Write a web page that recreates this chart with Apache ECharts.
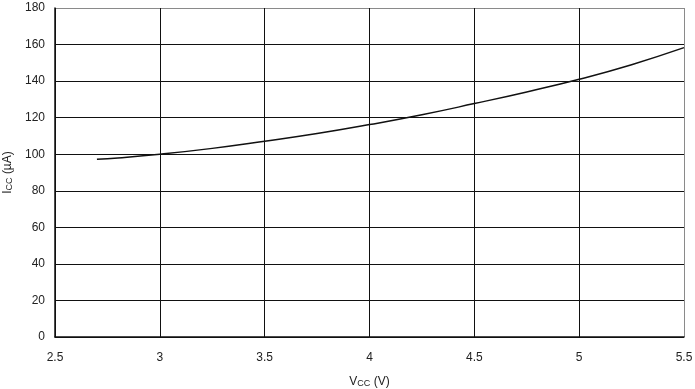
<!DOCTYPE html>
<html>
<head>
<meta charset="utf-8">
<script src="https://cdn.jsdelivr.net/npm/echarts@6/dist/echarts.min.js"></script>
<style>html,body{margin:0;padding:0;background:#fff}#c{width:695px;height:389px}</style>
</head>
<body>
<div id="c"></div>
<script>
const vcc = [2.7, 2.8, 3.0, 3.25, 3.5, 3.75, 4.0, 4.25, 4.5, 4.75, 5.0, 5.25, 5.5];
const icc = [97.3, 98.0, 100.0, 103.2, 107.1, 111.3, 116.2, 121.6, 127.7, 134.1, 141.0, 149.0, 158.3];
const xTicks = [2.5, 3, 3.5, 4, 4.5, 5, 5.5];
const yTicks = [0, 20, 40, 60, 80, 100, 120, 140, 160, 180];

const chart = echarts.init(document.getElementById('c'), null, {renderer: 'canvas'});
const font = '"Liberation Sans", Arial, sans-serif';
const gridColorsX = xTicks.map((v, i) => i === xTicks.length - 1 ? '#8a8a8a' : '#111');
const gridColorsY = yTicks.map((v, i) => i === yTicks.length - 1 ? '#8a8a8a' : '#111');
chart.setOption({
  animation: false,
  grid: {left: 55, right: 11, top: 8, bottom: 52, containLabel: false, outerBoundsMode: 'none'},
  xAxis: {
    type: 'value', min: 2.5, max: 5.5, interval: 0.5,
    axisLine: {show: true, onZero: false, lineStyle: {color: '#111', width: 1.5}},
    axisTick: {show: false},
    splitLine: {show: true, lineStyle: {color: gridColorsX, width: 1}},
    axisLabel: {color: '#222', fontSize: 12, fontFamily: font, margin: 15,
      formatter: v => String(v)},
    name: '{m|V}{s|CC}{m| (V)}', nameLocation: 'middle', nameGap: 38,
    nameTextStyle: {rich: {
      m: {fontSize: 12, fontFamily: font, color: '#222'},
      s: {fontSize: 9, fontFamily: font, color: '#222', verticalAlign: 'bottom', padding: [4, 0, 0, 0]}
    }}
  },
  yAxis: {
    type: 'value', min: 0, max: 180, interval: 20,
    axisLine: {show: true, lineStyle: {color: '#111', width: 1.5}},
    axisTick: {show: false},
    splitLine: {show: true, lineStyle: {color: gridColorsY, width: 1}},
    axisLabel: {color: '#222', fontSize: 12, fontFamily: font, margin: 10},
    name: '{m|I}{s|CC}{m| (µA)}', nameLocation: 'middle', nameGap: 40, nameRotate: 90,
    nameTextStyle: {rich: {
      m: {fontSize: 12, fontFamily: font, color: '#222'},
      s: {fontSize: 9, fontFamily: font, color: '#222', verticalAlign: 'bottom', padding: [4, 0, 0, 0]}
    }}
  },
  series: [{
    type: 'line',
    data: vcc.map((x, i) => [x, icc[i]]),
    smooth: true,
    showSymbol: false,
    lineStyle: {color: '#111', width: 1.5}
  }]
});
</script>
</body>
</html>
